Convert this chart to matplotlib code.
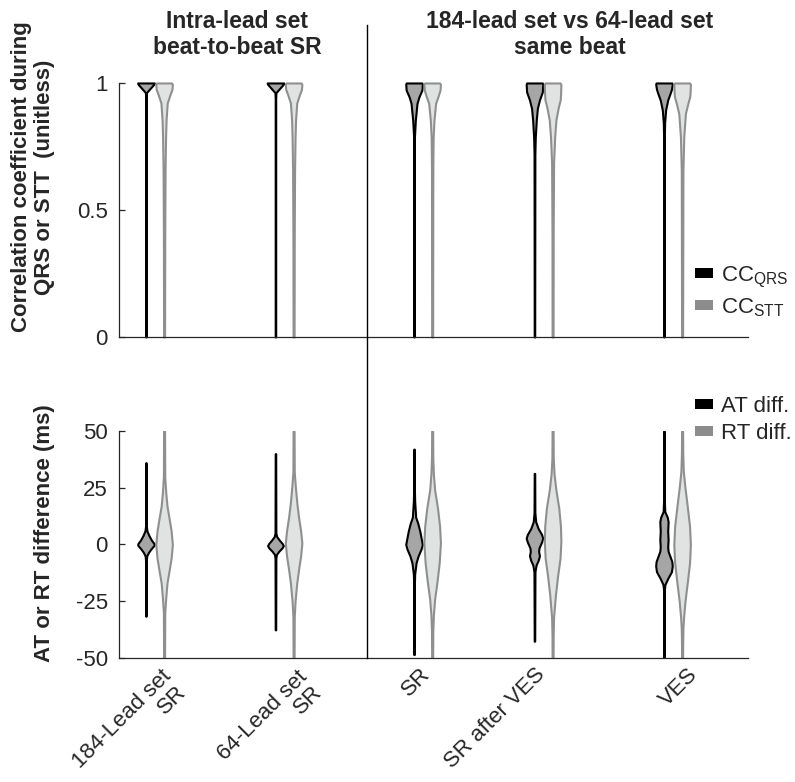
import numpy as np
import matplotlib
matplotlib.use("Agg")
import matplotlib.pyplot as plt
import matplotlib.transforms as mtrans
from matplotlib.patches import Patch
from matplotlib.lines import Line2D

plt.rcParams['font.family'] = ['Liberation Sans', 'DejaVu Sans']
plt.rcParams['axes.unicode_minus'] = False

# groups along x (data units), labels and where the divider sits
group_labels = ["184-Lead set\nSR", "64-Lead set\nSR", "SR", "SR after VES", "VES"]
group_x = [1.0, 2.0, 3.07, 4.0, 5.0]
label_x = [1.16, 2.21, 3.1, 3.99, 5.17]
divider_x = 2.637
pair_off = 0.07      # black / gray violin offset from group centre
half_w = 0.064       # max half width of a violin

# violin outlines: (value, relative half width)
# top panel: correlation coefficients
cc_qrs = [
    [(1.0, 1.0), (0.995, 0.95), (0.962, 0.06), (0.94, 0.03), (0.0, 0.03)],
    [(1.0, 1.0), (0.995, 0.95), (0.962, 0.06), (0.94, 0.03), (0.0, 0.03)],
    [(1.0, 0.95), (0.995, 1.0), (0.972, 0.95), (0.946, 0.6), (0.92, 0.36),
     (0.854, 0.16), (0.787, 0.05), (0.7, 0.03), (0.0, 0.03)],
    [(1.0, 0.95), (0.995, 1.0), (0.965, 0.95), (0.933, 0.6), (0.9, 0.35),
     (0.854, 0.22), (0.787, 0.1), (0.72, 0.05), (0.0, 0.03)],
    [(1.0, 0.95), (0.995, 1.0), (0.975, 0.9), (0.96, 0.75), (0.933, 0.45),
     (0.894, 0.2), (0.843, 0.08), (0.78, 0.04), (0.0, 0.03)],
]
cc_stt = [
    [(1.0, 0.9), (0.995, 1.0), (0.975, 0.95), (0.953, 0.7), (0.921, 0.38),
     (0.854, 0.24), (0.787, 0.18), (0.657, 0.12), (0.4, 0.08), (0.0, 0.06)],
    [(1.0, 0.9), (0.995, 1.0), (0.975, 0.95), (0.953, 0.7), (0.921, 0.38),
     (0.854, 0.24), (0.787, 0.18), (0.657, 0.12), (0.4, 0.08), (0.0, 0.06)],
    [(1.0, 0.9), (0.995, 1.0), (0.972, 0.95), (0.946, 0.7), (0.92, 0.42),
     (0.854, 0.22), (0.787, 0.12), (0.657, 0.08), (0.0, 0.06)],
    [(1.0, 0.9), (0.995, 1.0), (0.96, 0.97), (0.933, 0.92), (0.906, 0.7),
     (0.854, 0.4), (0.787, 0.25), (0.685, 0.12), (0.4, 0.07), (0.0, 0.06)],
    [(1.0, 0.9), (0.995, 1.0), (0.965, 0.97), (0.946, 0.92), (0.92, 0.7),
     (0.88, 0.4), (0.787, 0.2), (0.657, 0.1), (0.0, 0.06)],
]
# bottom panel: activation / repolarisation time differences (ms)
at_diff = [
    [(36, 0.03), (8, 0.05), (6, 0.12), (4, 0.35), (2, 0.65), (0.5, 0.95), (0, 1.0),
     (-0.5, 0.95), (-2, 0.6), (-3.5, 0.3), (-5, 0.1), (-7, 0.05), (-31.6, 0.03)],
    [(40, 0.03), (5, 0.05), (3.5, 0.15), (2, 0.45), (0.5, 0.8), (-0.5, 0.95),
     (-1.5, 0.8), (-3, 0.4), (-4.4, 0.12), (-6, 0.05), (-37.6, 0.03)],
    [(42, 0.03), (25, 0.04), (19, 0.08), (12, 0.2), (9.4, 0.45), (5.8, 0.7), (2, 0.9),
     (0, 1.0), (-2, 0.85), (-5, 0.5), (-8, 0.25), (-13, 0.08), (-18, 0.04), (-48.5, 0.03)],
    [(31.3, 0.03), (14, 0.05), (10, 0.15), (7, 0.45), (4.5, 0.85), (2.8, 1.0), (1, 0.85),
     (-1.5, 0.55), (-3, 0.5), (-5, 0.6), (-7, 0.45), (-9, 0.2), (-12, 0.06), (-42.6, 0.03)],
    [(50, 0.03), (20, 0.04), (14.5, 0.1), (12, 0.4), (10, 0.5), (6, 0.45), (2, 0.5),
     (-1, 0.45), (-3, 0.5), (-5, 0.7), (-7.5, 0.95), (-9.5, 1.0), (-12, 0.9),
     (-15, 0.45), (-17.6, 0.12), (-20, 0.05), (-50, 0.03)],
]
rt_diff = [
    [(50, 0.06), (30, 0.08), (23, 0.2), (17, 0.35), (11.6, 0.6), (6, 0.85), (0, 1.0),
     (-6, 0.85), (-11.6, 0.6), (-17, 0.35), (-23.5, 0.2), (-30, 0.08), (-50, 0.06)],
    [(50, 0.06), (32, 0.08), (26, 0.2), (18, 0.4), (12, 0.6), (6, 0.85), (0.6, 1.0),
     (-5, 0.85), (-11, 0.6), (-17, 0.38), (-25, 0.18), (-32, 0.08), (-50, 0.06)],
    [(50, 0.06), (38, 0.08), (31, 0.15), (24, 0.3), (16, 0.65), (8, 0.9), (0.6, 1.0),
     (-8, 0.85), (-16, 0.6), (-24, 0.3), (-31, 0.15), (-38, 0.08), (-50, 0.06)],
    [(50, 0.06), (38, 0.08), (31, 0.18), (24, 0.4), (16, 0.75), (8, 0.95), (1.4, 1.0),
     (-6, 0.9), (-14, 0.6), (-22, 0.35), (-32, 0.12), (-40, 0.07), (-50, 0.06)],
    [(50, 0.06), (40, 0.08), (32, 0.15), (25, 0.35), (17.5, 0.6), (8, 0.9), (0, 1.0),
     (-8, 0.9), (-16, 0.65), (-25, 0.35), (-32, 0.18), (-37, 0.1), (-44, 0.07), (-50, 0.06)],
]

dark_face, dark_edge = '#a6a6a6', '#000000'
light_face, light_edge = '#e1e2e2', '#8f8f8f'
txt = '#262626'


def violin(ax, xc, prof, face, edge, clip=True):
    y = np.array([p[0] for p in prof], dtype=float)
    w = np.array([p[1] for p in prof]) * half_w
    ax.fill_betweenx(y, xc - w, xc + w, facecolor=face, edgecolor=edge,
                     linewidth=1.5, joinstyle='round', clip_on=clip)


fig = plt.figure(figsize=(7.95, 7.82), dpi=100)
ax1 = fig.add_axes([0.1497, 0.5691, 0.7912, 0.3248])
ax2 = fig.add_axes([0.1497, 0.1586, 0.7912, 0.2903])
xmin, xmax = 0.722, 5.579

for i, xc in enumerate(group_x):
    violin(ax1, xc - pair_off, cc_qrs[i], dark_face, dark_edge, clip=False)
    violin(ax1, xc + pair_off, cc_stt[i], light_face, light_edge, clip=False)
    violin(ax2, xc - pair_off, at_diff[i], dark_face, dark_edge)
    violin(ax2, xc + pair_off, rt_diff[i], light_face, light_edge)

for ax in (ax1, ax2):
    ax.set_xlim(xmin, xmax)
    for s in ('top', 'right'):
        ax.spines[s].set_visible(False)
    for s in ('left', 'bottom'):
        ax.spines[s].set_color(txt)
        ax.spines[s].set_linewidth(0.9)
    ax.tick_params(axis='y', direction='in', length=4.5, width=0.9, color=txt,
                   labelsize=16, labelcolor=txt, pad=8)

ax1.set_ylim(0, 1)
ax1.set_yticks([0, 0.5, 1])
ax1.set_yticklabels(['0', '0.5', '1'])
ax1.set_xticks([])

ax2.set_ylim(-50, 50)
ax2.set_yticks([-50, -25, 0, 25, 50])
ax2.set_yticklabels(['-50', '-25', '0', '25', '50'])
ax2.set_xticks(label_x)
ax2.set_xticklabels(group_labels, rotation=45, ha='right', va='center',
                    rotation_mode='anchor', multialignment='right', linespacing=1.05)
ax2.tick_params(axis='x', length=0, labelsize=16, labelcolor=txt, pad=9.5)
# two-line labels sit a little lower, first line level with the one-line labels
for lbl in ax2.get_xticklabels():
    if '\n' in lbl.get_text():
        lbl.set_transform(lbl.get_transform() +
                          mtrans.ScaledTranslation(0, -0.1, fig.dpi_scale_trans))

ax1.set_ylabel("Correlation coefficient during\nQRS or STT  (unitless)",
               fontsize=16, fontweight='bold', color=txt, linespacing=1.1)
ax1.yaxis.set_label_coords(-0.102, 0.63)
ax2.set_ylabel("AT or RT difference (ms)", fontsize=16, fontweight='bold', color=txt)
ax2.yaxis.set_label_coords(-0.102, 0.55)

fig.text(237 / 795, 1 - 59 / 782, "Intra-lead set\nbeat-to-beat SR", ha='center',
         va='bottom', fontsize=16.5, fontweight='bold', color=txt, linespacing=1.15)
fig.text(570 / 795, 1 - 59 / 782, "184-lead set vs 64-lead set\nsame beat", ha='center',
         va='bottom', fontsize=16.5, fontweight='bold', color=txt, linespacing=1.15)

# divider between the two comparisons, spanning both panels
pos = ax2.get_position()
xf = pos.x0 + (divider_x - xmin) / (xmax - xmin) * pos.width
fig.add_artist(Line2D([xf, xf], [pos.y0, 1 - 25 / 782], transform=fig.transFigure,
                      color='black', linewidth=1.0))

leg_kw = dict(frameon=False, fontsize=16, handlelength=0.82, handleheight=0.33,
              handletextpad=0.35, labelspacing=0.3, borderpad=0, borderaxespad=0,
              loc='center left', labelcolor=txt)
fig.legend(handles=[Patch(facecolor='#000000', edgecolor='none', label=r'CC$_\mathregular{QRS}$'),
                    Patch(facecolor='#8c8c8c', edgecolor='none', label=r'CC$_\mathregular{STT}$')],
           bbox_to_anchor=(0.874, 0.627), **leg_kw)
fig.legend(handles=[Patch(facecolor='#000000', edgecolor='none', label='AT diff.'),
                    Patch(facecolor='#8c8c8c', edgecolor='none', label='RT diff.')],
           bbox_to_anchor=(0.874, 0.463), **leg_kw)

fig.savefig('out.png', dpi=100)
